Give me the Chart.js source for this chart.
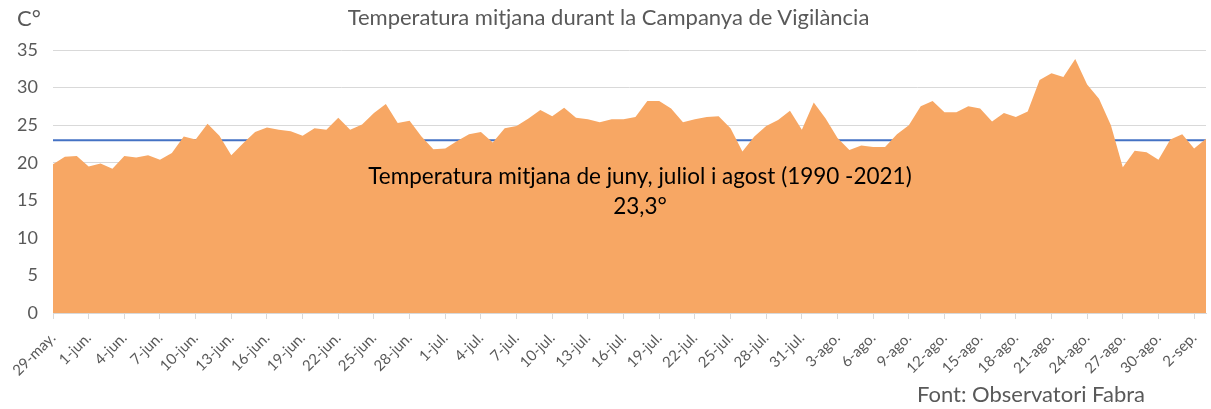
<!DOCTYPE html>
<html>
<head>
<meta charset="utf-8">
<script src="https://cdn.jsdelivr.net/npm/chart.js@4/dist/chart.umd.min.js"></script>
<style>
  body { margin: 0; background: #fff; }
  #wrap { position: relative; width: 1211px; height: 409px; font-family: Lato, sans-serif; }
  canvas { position: absolute; left: 0; top: 0; }
  .txt { position: absolute; white-space: nowrap; }
</style>
</head>
<body>
<div id="wrap">
  <canvas id="chart" width="1211" height="409"></canvas>
  <div class="txt" style="left:17px;top:4px;font-size:22px;color:#595959">C°</div>
  <div class="txt" style="left:0;width:1217px;text-align:center;top:3px;font-size:22px;color:#595959">Temperatura mitjana durant la Campanya de Vigilància</div>
  <div class="txt" style="left:340px;width:600px;text-align:center;top:161px;font-size:22.5px;line-height:30px;color:#000">Temperatura mitjana de juny, juliol i agost (1990 -2021)<br>23,3°</div>
  <div class="txt" style="left:917px;top:380px;font-size:22px;color:#595959">Font: Observatori Fabra</div>
</div>
<script>
// days shown on the x axis: 29 May to 3 Sep
const monthSpans = [['may.', 29, 31], ['jun.', 1, 30], ['jul.', 1, 31], ['ago.', 1, 31], ['sep.', 1, 3]];
const days = [];
monthSpans.forEach(([m, first, last]) => {
  for (let d = first; d <= last; d++) days.push(d + '-' + m);
});

// daily mean temperature
const temps = [
  19.8, 20.8, 20.9, 19.5, 19.9, 19.2, 20.9, 20.7, 21.0, 20.4,
  21.3, 23.5, 23.1, 25.2, 23.6, 21.0, 22.6, 24.1, 24.7, 24.4,
  24.2, 23.6, 24.6, 24.4, 26.0, 24.4, 25.1, 26.6, 27.8, 25.3,
  25.6, 23.5, 21.8, 21.9, 22.9, 23.8, 24.1, 22.7, 24.6, 24.9,
  25.9, 27.0, 26.2, 27.3, 26.0, 25.8, 25.4, 25.8, 25.8, 26.1,
  28.2, 28.2, 27.2, 25.4, 25.8, 26.1, 26.2, 24.6, 21.5, 23.5,
  24.9, 25.7, 26.9, 24.4, 28.0, 25.9, 23.3, 21.7, 22.3, 22.1,
  22.1, 23.8, 25.0, 27.5, 28.2, 26.7, 26.7, 27.5, 27.2, 25.5,
  26.6, 26.1, 26.8, 31.0, 31.9, 31.4, 33.8, 30.4, 28.5, 25.0,
  19.4, 21.6, 21.4, 20.4, 23.1, 23.8, 21.9, 23.2
];

// reference line (jun-aug mean 1990-2021)
const meanTemp = 23.0;

const grey = '#595959';
const gridGrey = '#d9d9d9';

new Chart(document.getElementById('chart'), {
  type: 'line',
  data: {
    labels: days,
    datasets: [
      {
        data: temps,
        fill: 'origin',
        backgroundColor: '#F7A764',
        borderWidth: 0,
        pointRadius: 0,
        tension: 0
      },
      {
        data: [{ x: days[0], y: meanTemp }, { x: days[days.length - 1], y: meanTemp }],
        borderColor: '#4472C4',
        borderWidth: 2,
        pointRadius: 0,
        fill: false
      }
    ]
  },
  options: {
    responsive: false,
    animation: false,
    devicePixelRatio: 1,
    layout: { padding: { top: 50, right: 5, left: 0, bottom: 0 } },
    plugins: {
      legend: { display: false },
      tooltip: { enabled: false },
      title: { display: false }
    },
    scales: {
      x: {
        offset: false,
        grid: {
          drawOnChartArea: false,
          tickLength: 6,
          color: c => (c.index % 3 === 0 ? gridGrey : 'transparent')
        },
        border: { color: gridGrey },
        ticks: {
          autoSkip: false,
          maxRotation: 45,
          minRotation: 45,
          padding: 10,
          color: grey,
          font: { family: 'Lato', size: 15 },
          callback: (v, i) => (i % 3 === 0 ? days[i] : '')
        },
        afterFit: s => { s.height = 96; s.paddingRight = 0; s.paddingLeft = 0; }
      },
      y: {
        min: 0,
        max: 35,
        ticks: { stepSize: 5, color: grey, font: { family: 'Lato', size: 18 }, padding: 15 },
        grid: { color: gridGrey, drawTicks: false },
        border: { display: false },
        afterFit: s => { s.width = 53; }
      }
    }
  }
});
</script>
</body>
</html>
